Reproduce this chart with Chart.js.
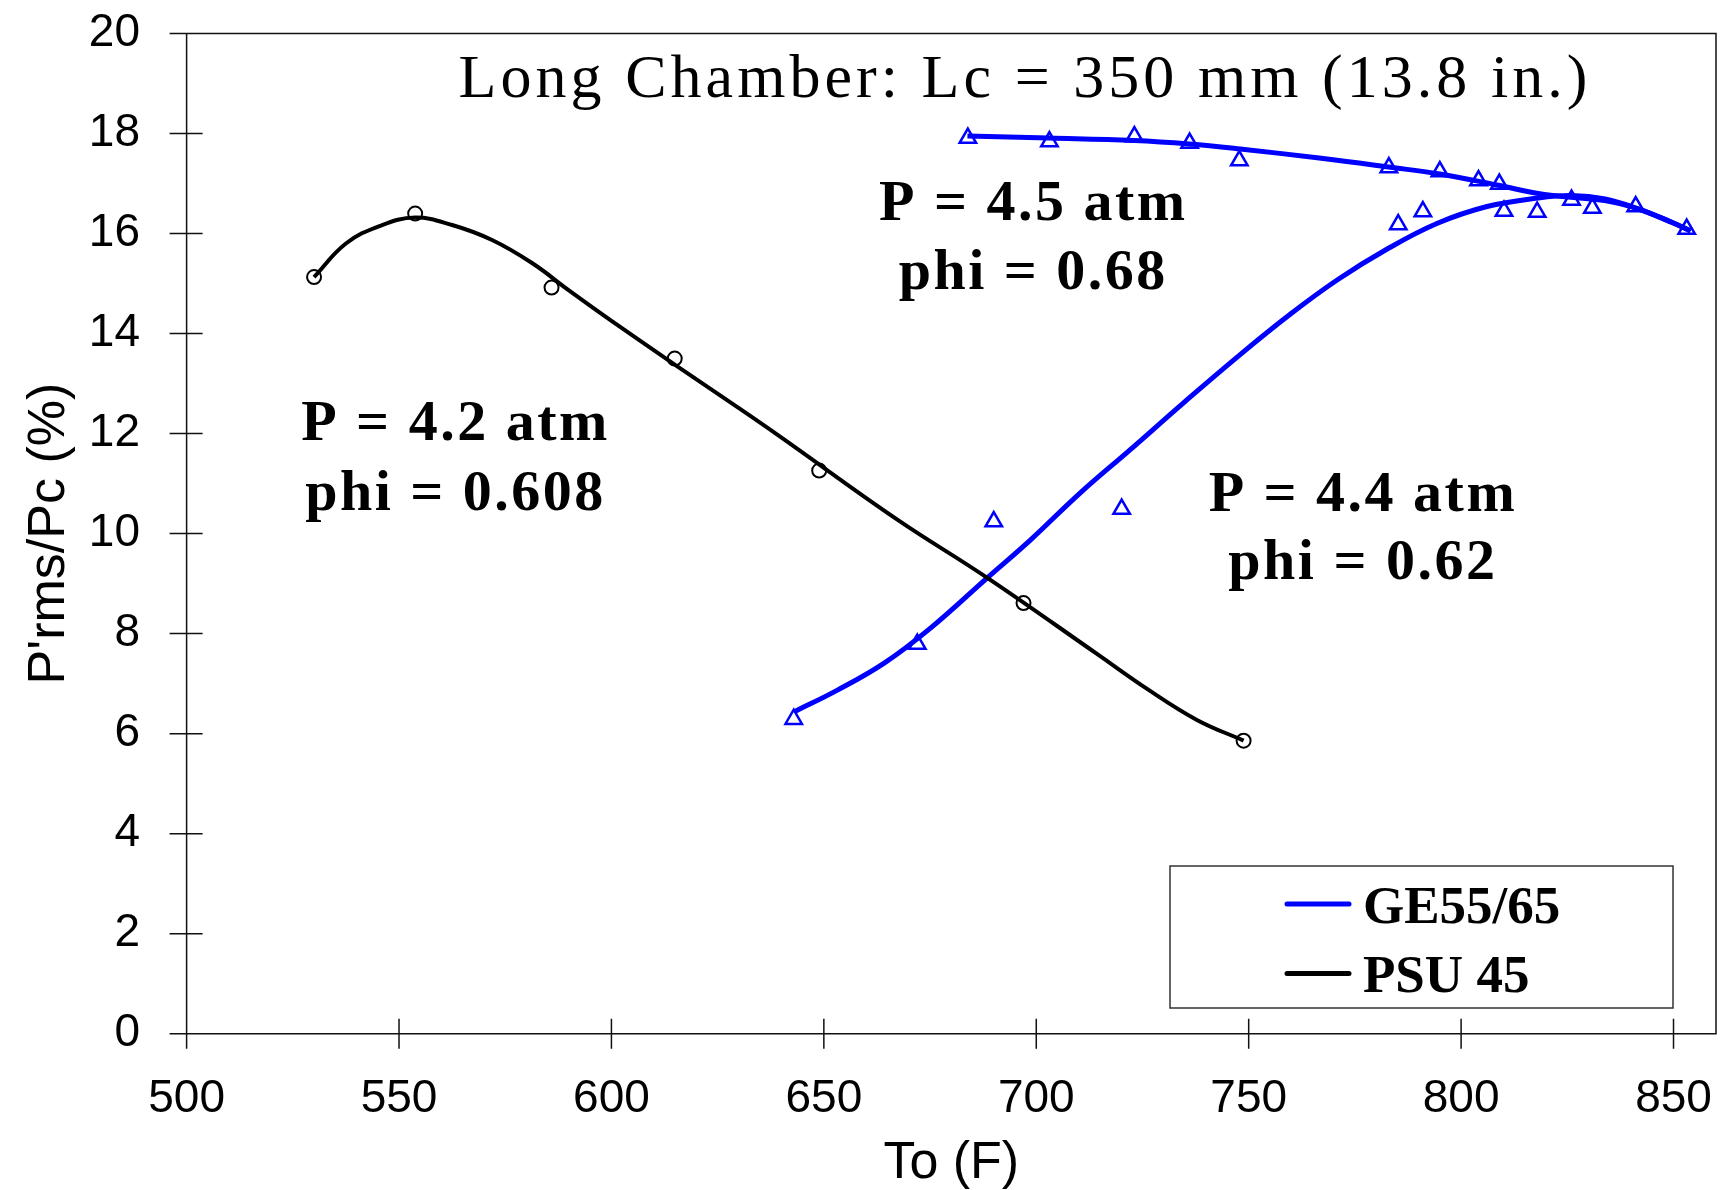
<!DOCTYPE html>
<html>
<head>
<meta charset="utf-8">
<title>Long Chamber</title>
<script src="https://cdn.jsdelivr.net/npm/chart.js@4.4.1/dist/chart.umd.min.js"></script>
<style>
  html, body { margin: 0; padding: 0; background: #fff; overflow: hidden; }
  #wrap { width: 1728px; height: 1190px; position: relative; }
</style>
</head>
<body>
<div id="wrap"><canvas id="grafico"></canvas></div>
<script>
//Datos medidos - PSU 45 (circulos)
const psuTemp = [530, 553.8, 585.9, 614.9, 648.9, 697, 748.8];
const psuPrms = [15.13, 16.4, 14.92, 13.5, 11.26, 8.61, 5.86];
//Datos medidos - GE55/65 (triangulos)
const geTemp = [642.9, 672.0, 690.0, 720.1, 683.9, 703.1, 723.1, 736.1, 747.8, 783.0, 795.0,
                804.1, 809.0, 785.2, 791.0, 810.1, 817.9, 826.0, 830.9, 841.1, 853.1];
const gePrms = [6.29, 7.79, 10.24, 10.49, 17.91, 17.84, 17.94, 17.81, 17.46, 17.32, 17.24,
                17.06, 16.99, 16.18, 16.44, 16.45, 16.43, 16.67, 16.51, 16.54, 16.09];
//Curvas de ajuste
const psuAjusteT = [530, 537.5, 545.4, 553.8, 562.5, 571.9, 581.3, 589.9, 600.1, 614.9, 627.4,
                    639.2, 667.3, 688.4, 714.2, 726, 737.7, 748.8];
const psuAjusteP = [15.13, 15.8, 16.15, 16.32, 16.17, 15.87, 15.41, 14.87, 14.25, 13.38, 12.66,
                    11.97, 10.28, 9.12, 7.6, 6.9, 6.28, 5.86];
const ge45AjusteT = [683.8, 703, 723, 736, 748, 766.6, 783, 795, 808.5, 819.6, 833.8, 841.8, 849.7, 854];
const ge45AjusteP = [17.95, 17.91, 17.86, 17.79, 17.69, 17.51, 17.33, 17.19, 16.97, 16.78, 16.66, 16.49, 16.22, 16.05];
const ge44AjusteT = [643.1, 653.2, 664.2, 675.1, 688.4, 698.6, 710.3, 722, 735, 748, 760, 771,
                     782.4, 794.3, 806.1, 818, 826, 833.9, 841.8, 849.7, 854];
const ge44AjusteP = [6.44, 6.87, 7.41, 8.11, 9.11, 9.87, 10.81, 11.67, 12.64, 13.58, 14.4, 15.08,
                     15.68, 16.2, 16.54, 16.71, 16.76, 16.69, 16.49, 16.22, 16.05];
//Ejes
const ejeX = {min: 500, max: 860, paso: 50};
const ejeY = {min: 0, max: 20, paso: 2};

const titulo = 'Long Chamber: Lc = 350 mm (13.8 in.)';
const etiquetas = [
    {lineas: ['P = 4.2 atm', 'phi = 0.608'], x: 563, y: [11.87, 10.47]},
    {lineas: ['P = 4.5 atm', 'phi = 0.68'], x: 699, y: [16.27, 14.9]},
    {lineas: ['P = 4.4 atm', 'phi = 0.62'], x: 776.6, y: [10.45, 9.1]}
];

const AZUL = '#0000ff';
const puntos = (xs, ys) => xs.map((v, i) => ({x: v, y: ys[i]}));

function textoEspaciado(ctx, texto, cx, base, esp) {
    ctx.letterSpacing = esp + 'px';
    const w = ctx.measureText(texto).width - esp;
    ctx.fillText(texto, cx - w / 2, base);
    ctx.letterSpacing = '0px';
}

//marco y marcas que cruzan los ejes
const marcoEjes = {
    id: 'marcoEjes',
    beforeDatasetsDraw(chart) {
        const {ctx, chartArea: a, scales: {x, y}} = chart;
        ctx.save();
        ctx.strokeStyle = '#111';
        ctx.lineWidth = 1.5;
        ctx.beginPath();
        ctx.rect(a.left, a.top, a.right - a.left, a.bottom - a.top);
        y.ticks.forEach(t => {
            const py = y.getPixelForValue(t.value);
            ctx.moveTo(a.left - 17, py);
            ctx.lineTo(a.left + 16, py);
        });
        x.ticks.forEach(t => {
            const px = x.getPixelForValue(t.value);
            ctx.moveTo(px, a.bottom - 15);
            ctx.lineTo(px, a.bottom + 15);
        });
        ctx.stroke();
        ctx.restore();
    }
};

//titulo, textos y leyenda
const textos = {
    id: 'textos',
    afterDatasetsDraw(chart) {
        const {ctx, scales: {x, y}} = chart;
        ctx.save();
        ctx.fillStyle = '#000';
        ctx.textAlign = 'left';
        ctx.textBaseline = 'alphabetic';

        ctx.font = '62px "Liberation Serif"';
        ctx.letterSpacing = '0px';
        const natural = ctx.measureText(titulo).width;
        textoEspaciado(ctx, titulo, 1023, 97, Math.max(0, (1129 - natural) / (titulo.length - 1)));

        ctx.font = 'bold 58px "Liberation Serif"';
        etiquetas.forEach(e => {
            e.lineas.forEach((l, i) => {
                textoEspaciado(ctx, l, x.getPixelForValue(e.x), y.getPixelForValue(e.y[i]), 2.5);
            });
        });

        //leyenda
        const items = chart.data.datasets.filter(d => d.enLeyenda);
        ctx.strokeStyle = '#333';
        ctx.lineWidth = 1.5;
        ctx.strokeRect(1170, 866, 503, 142);
        ctx.font = 'bold 53px "Liberation Serif"';
        items.forEach((d, i) => {
            const cy = 904 + i * 69.5;
            ctx.strokeStyle = d.borderColor;
            ctx.lineWidth = 5;
            ctx.lineCap = 'round';
            ctx.beginPath();
            ctx.moveTo(1287, cy);
            ctx.lineTo(1349, cy);
            ctx.stroke();
            ctx.fillText(d.label, 1363, cy + 18.5);
        });
        ctx.restore();
    }
};

new Chart(document.getElementById('grafico'), {
    type: 'scatter',
    data: {
        datasets: [
            {
                label: 'PSU 45 datos',
                data: puntos(psuTemp, psuPrms),
                pointStyle: 'circle',
                pointRadius: 7,
                borderColor: '#000',
                borderWidth: 2,
                backgroundColor: 'rgba(0,0,0,0)',
                order: 3
            },
            {
                label: 'GE55/65 datos',
                data: puntos(geTemp, gePrms),
                pointStyle: 'triangle',
                pointRadius: 9.5,
                borderColor: AZUL,
                borderWidth: 2.5,
                backgroundColor: 'rgba(0,0,0,0)',
                order: 3
            },
            {
                label: 'GE55/65',
                enLeyenda: true,
                data: puntos(ge45AjusteT, ge45AjusteP),
                showLine: true,
                pointRadius: 0,
                borderColor: AZUL,
                borderWidth: 5,
                tension: 0.4,
                order: 1
            },
            {
                label: 'PSU 45',
                enLeyenda: true,
                data: puntos(psuAjusteT, psuAjusteP),
                showLine: true,
                pointRadius: 0,
                borderColor: '#000',
                borderWidth: 4,
                tension: 0.4,
                order: 1
            },
            {
                label: 'GE55/65 (4.4 atm)',
                data: puntos(ge44AjusteT, ge44AjusteP),
                showLine: true,
                pointRadius: 0,
                borderColor: AZUL,
                borderWidth: 5,
                tension: 0.4,
                order: 2
            }
        ]
    },
    options: {
        responsive: true,
        maintainAspectRatio: false,
        animation: false,
        layout: { padding: { top: 33.5, right: 0, left: 0, bottom: 0 } },
        plugins: {
            legend: { display: false },
            tooltip: { enabled: false }
        },
        scales: {
            x: {
                type: 'linear',
                min: ejeX.min,
                max: ejeX.max,
                grid: { display: false, drawTicks: false },
                border: { display: false },
                ticks: {
                    stepSize: ejeX.paso,
                    includeBounds: false,
                    padding: 38,
                    color: '#000',
                    font: { family: '"Liberation Sans"', size: 46 }
                },
                afterFit: s => { s.height = 156.3; s.paddingLeft = 0; s.paddingRight = 0; },
                title: {
                    display: true,
                    text: 'To (F)',
                    color: '#000',
                    padding: { top: 2, bottom: 0 },
                    font: { family: '"Liberation Sans"', size: 52, lineHeight: 1 }
                }
            },
            y: {
                min: ejeY.min,
                max: ejeY.max,
                grid: { display: false, drawTicks: false },
                border: { display: false },
                ticks: {
                    stepSize: ejeY.paso,
                    padding: 46.6,
                    color: '#000',
                    font: { family: '"Liberation Sans"', size: 46 }
                },
                afterFit: s => { s.width = 186.6; s.paddingTop = 0; s.paddingBottom = 0; },
                title: {
                    display: true,
                    text: "P'rms/Pc (%)",
                    color: '#000',
                    padding: { top: 23.6, bottom: 0 },
                    font: { family: '"Liberation Sans"', size: 52, lineHeight: 1 }
                }
            }
        }
    },
    plugins: [marcoEjes, textos]
});
</script>
</body>
</html>
